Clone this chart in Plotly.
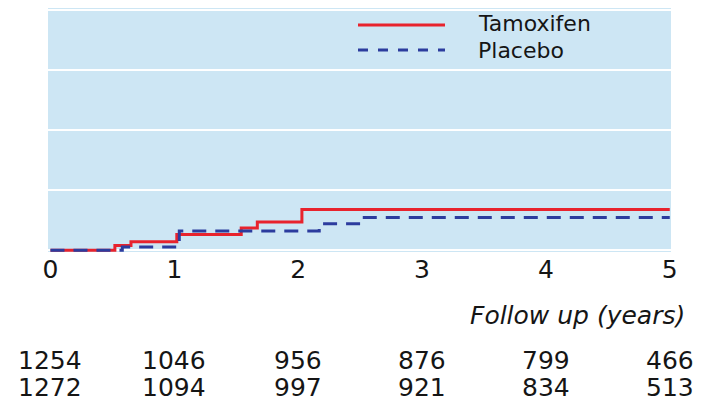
import plotly.graph_objects as go

# Data
tam_time = [0, 0.52, 0.65, 1.02, 1.54, 1.67, 2.03, 5.0]
tam_value = [0, 0.08, 0.14, 0.26, 0.37, 0.47, 0.68, 0.68]
pla_time = [0, 0.58, 1.04, 2.17, 2.52, 5.0]
pla_value = [0, 0.055, 0.32, 0.44, 0.545, 0.545]
x_ticks = [0, 1, 2, 3, 4, 5]
risk_tamoxifen = [1254, 1046, 956, 876, 799, 466]
risk_placebo = [1272, 1094, 997, 921, 834, 513]
series_names = ["Tamoxifen", "Placebo"]

RED = "#e8232d"
BLUE = "#2c3c9e"
BG = "#cde6f4"
FONT = "DejaVu Sans"
FS = 25
TXT = "#151515"

# page has an 8px body margin; work in page pixels and subtract it
OFF = 8
W, H = 704 - OFF, 401 - OFF
PL, PR, PT, PB = 48 - OFF, 671 - OFF, 0, 252 - OFF

def px_x(px):
    return (px - OFF - PL) / (PR - PL)

def px_y(py):
    return (PB - (py - OFF)) / (PB - PT)

fig = go.Figure()
fig.add_trace(go.Scatter(x=tam_time, y=tam_value, mode="lines", line_shape="hv",
                         line=dict(color=RED, width=3), name=series_names[0], showlegend=False))
fig.add_trace(go.Scatter(x=pla_time, y=pla_value, mode="lines", line_shape="hv",
                         line=dict(color=BLUE, width=3, dash="14px,9px"), name=series_names[1], showlegend=False))

# manual legend
fig.add_shape(type="line", xref="paper", yref="paper", x0=px_x(358), x1=px_x(445),
              y0=px_y(25), y1=px_y(25), line=dict(color=RED, width=3))
fig.add_shape(type="line", xref="paper", yref="paper", x0=px_x(358), x1=px_x(445),
              y0=px_y(50), y1=px_y(50), line=dict(color=BLUE, width=3, dash="10px,10px"))
fig.add_annotation(xref="paper", yref="paper", x=px_x(476), y=px_y(24), text=series_names[0],
                   showarrow=False, xanchor="left", yanchor="middle", font=dict(family=FONT, size=22, color=TXT))
fig.add_annotation(xref="paper", yref="paper", x=px_x(476), y=px_y(50.5), text=series_names[1],
                   showarrow=False, xanchor="left", yanchor="middle", font=dict(family=FONT, size=22, color=TXT))

# axis title
fig.add_annotation(xref="paper", yref="paper", x=px_x(687), y=px_y(315), text="<i>Follow up (years)</i>",
                   showarrow=False, xanchor="right", yanchor="middle", font=dict(family=FONT, size=FS, color=TXT))

# numbers at risk
for xv, a, b in zip(x_ticks, risk_tamoxifen, risk_placebo):
    fig.add_annotation(xref="x", yref="paper", x=xv, y=px_y(360), text=str(a), showarrow=False,
                       xanchor="center", yanchor="middle", font=dict(family=FONT, size=FS, color=TXT))
    fig.add_annotation(xref="x", yref="paper", x=xv, y=px_y(387), text=str(b), showarrow=False,
                       xanchor="center", yanchor="middle", font=dict(family=FONT, size=FS, color=TXT))

fig.update_layout(
    width=W, height=H,
    margin=dict(l=PL, r=W - PR, t=PT, b=H - PB, pad=0),
    plot_bgcolor=BG, paper_bgcolor="white",
    showlegend=False,
    font=dict(family=FONT, size=FS, color=TXT),
)
fig.update_xaxes(range=[-0.02, 5.01], tickvals=x_ticks, ticktext=[str(v) for v in x_ticks],
                 showgrid=False, zeroline=False, showline=False, ticks="",
                 tickfont=dict(family=FONT, size=FS, color=TXT))
fig.update_yaxes(range=[-0.03, 4.037], dtick=1, tick0=0, showgrid=True, gridcolor="white", gridwidth=2,
                 zeroline=False, showline=False, showticklabels=False, ticks="")

fig.write_html("out.html")
